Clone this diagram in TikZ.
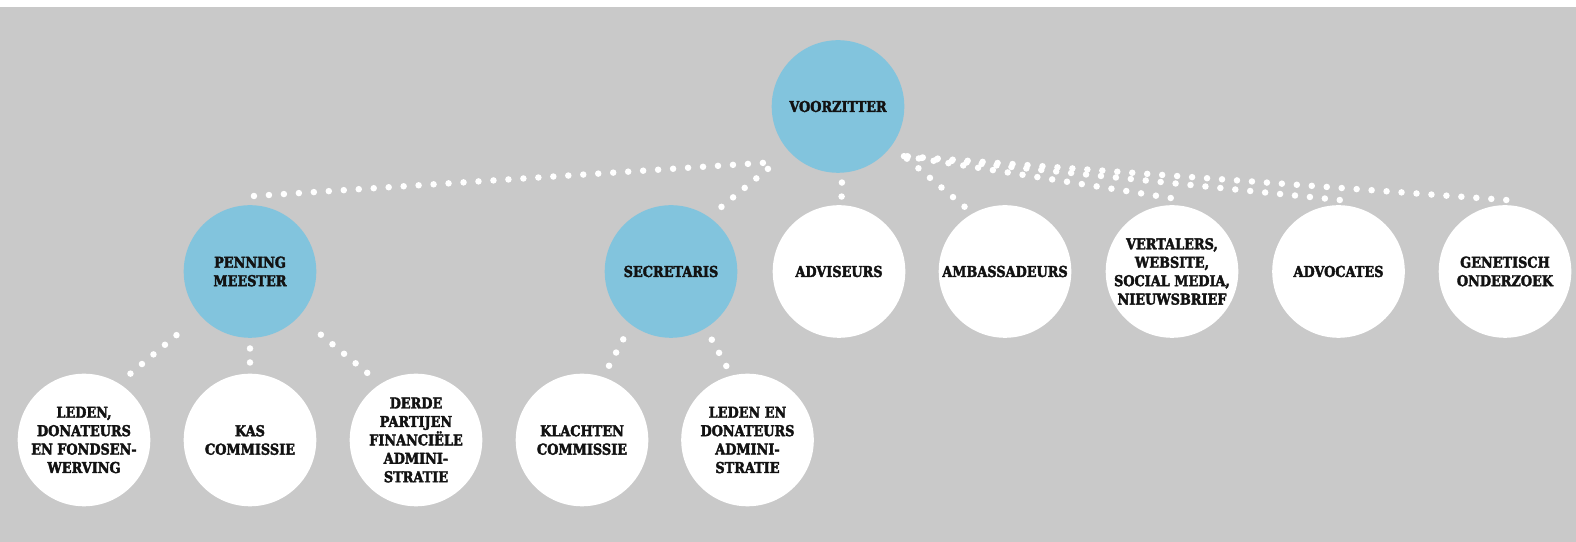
\documentclass[tikz,border=0pt]{standalone}
\usepackage{fontspec}
\usetikzlibrary{calc}
\newfontfamily\orgfont[FakeStretch=0.86, BoldFeatures={FakeBold=2.5}]{DejaVu Serif}
\definecolor{achtergrond}{RGB}{201,201,201}
\definecolor{bestuurblauw}{RGB}{130,196,221}

\begin{document}
\begin{tikzpicture}[x=1bp, y=1bp,
  kring/.style={circle, minimum size=132.6bp, inner sep=-20bp, align=center,
    font=\orgfont\bfseries\fontsize{15}{18.5}\selectfont, text=black!93},
  bestuur/.style={kring, fill=bestuurblauw},
  taak/.style={kring, fill=white},
  stippel/.style={white, line width=6.5bp, line cap=round,
    dash pattern=on 0bp off 15bp},
  kort/.style={dash pattern=on 0bp off 14bp}]
  \useasboundingbox (0,0) rectangle (1576,542);
  \fill[achtergrond] (0,0) rectangle (1576,534.5);
  % bestuur
  \node[bestuur] (voorz) at (838,435.5) {VOORZITTER};
  \node[bestuur] (penn) at (250,270.5) {PENNING\\MEESTER};
  \node[bestuur] (secr) at (671,270.5) {SECRETARIS};
  % tweede rij
  \node[taak] (advis) at (839,270.5) {ADVISEURS};
  \node[taak] (ambas) at (1005,270.5) {AMBASSADEURS};
  \node[taak] (vertal) at (1172,270.5) {VERTALERS,\\WEBSITE,\\SOCIAL MEDIA,\\NIEUWSBRIEF};
  \node[taak] (advoc) at (1338.5,270.5) {ADVOCATES};
  \node[taak] (genet) at (1505,270.5) {GENETISCH\\ONDERZOEK};
  % derde rij
  \node[taak] (leden) at (84,102) {LEDEN,\\DONATEURS\\EN FONDSEN-\\WERVING};
  \node[taak] (kas) at (250,102) {KAS\\COMMISSIE};
  \node[taak] (derde) at (416,102) {DERDE\\PARTIJEN\\FINANCIËLE\\ADMINI-\\STRATIE};
  \node[taak] (klacht) at (582,102) {KLACHTEN\\COMMISSIE};
  \node[taak] (ledadm) at (747.5,102) {LEDEN EN\\DONATEURS\\ADMINI-\\STRATIE};
  % stippellijnen vanaf de voorzitter
  \draw[stippel] ($(penn.center)+(87:75.6)$) -- ($(voorz.center)+(222:83)$);
  \draw[stippel] ($(secr.center)+(52:82)$) -- ($(voorz.center)+(222:83)$);
  \draw[stippel, kort] ($(advis.center)+(88:75)$) -- ($(voorz.center)+(273:75)$);
  \draw[stippel] ($(ambas.center)+(122:76.4)$) -- ($(voorz.center)+(323:82.5)$);
  \draw[stippel] ($(vertal.center)+(91:73.5)$) -- ($(voorz.center)+(323:82.5)$);
  \draw[stippel] ($(advoc.center)+(89:71.5)$) -- ($(voorz.center)+(323:82.5)$);
  \draw[stippel] ($(genet.center)+(89:71.5)$) -- ($(voorz.center)+(323:82.5)$);
  % penningmeester en secretaris
  \draw[stippel] ($(leden.center)+(55:81)$) -- ($(penn.center)+(221:87)$);
  \draw[stippel, kort] ($(kas.center)+(90:77.5)$) -- ($(penn.center)+(270:76)$);
  \draw[stippel] ($(derde.center)+(126:83)$) -- ($(penn.center)+(318:84.6)$);
  \draw[stippel] ($(klacht.center)+(70:79)$) -- ($(secr.center)+(234.5:79)$);
  \draw[stippel] ($(ledadm.center)+(106:77)$) -- ($(secr.center)+(301:75.4)$);
\end{tikzpicture}
\end{document}
